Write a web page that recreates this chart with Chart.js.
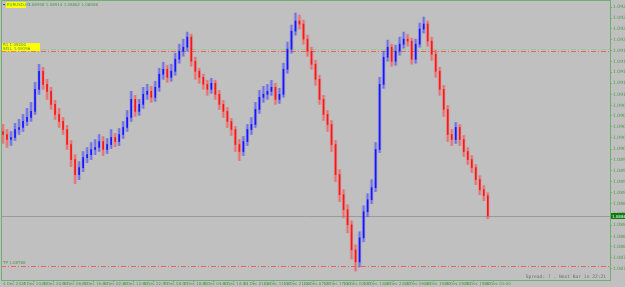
<!DOCTYPE html>
<html>
<head>
<meta charset="utf-8">
<script src="https://cdn.jsdelivr.net/npm/chart.js@4.4.0/dist/chart.umd.min.js"></script>
<style>
  html, body { margin: 0; padding: 0; background: #c0c0c0; overflow: hidden; }
</style>
</head>
<body>
<canvas id="priceChart" width="625" height="287"></canvas>
<script>
const symbol = 'EURUSD,H1';
const firstOpen = 1.09036;

const closes = [
  1.09030, 1.09020, 1.09024, 1.09040, 1.09044, 1.09056, 1.09064, 1.09076, 1.09120, 1.09156,
  1.09130, 1.09116, 1.09090, 1.09070, 1.09056, 1.09040, 1.09010, 1.08980, 1.08950, 1.08964,
  1.08984, 1.08990, 1.09000, 1.09004, 1.09016, 1.09000, 1.09010, 1.09024, 1.09016, 1.09030,
  1.09044, 1.09064, 1.09100, 1.09076, 1.09090, 1.09110, 1.09116, 1.09104, 1.09124, 1.09150,
  1.09160, 1.09144, 1.09156, 1.09180, 1.09196, 1.09204, 1.09224, 1.09176, 1.09156, 1.09144,
  1.09130, 1.09120, 1.09132, 1.09110, 1.09090, 1.09076, 1.09056, 1.09040, 1.09010, 1.08996,
  1.09016, 1.09040, 1.09050, 1.09080, 1.09104, 1.09110, 1.09116, 1.09124, 1.09100, 1.09110,
  1.09160, 1.09200, 1.09236, 1.09256, 1.09250, 1.09220, 1.09196, 1.09170, 1.09140, 1.09100,
  1.09070, 1.09050, 1.09010, 1.08950, 1.08910, 1.08880, 1.08850, 1.08800, 1.08776, 1.08824,
  1.08876, 1.08900, 1.08924, 1.09000, 1.09130, 1.09184, 1.09204, 1.09176, 1.09196, 1.09210,
  1.09220, 1.09216, 1.09180, 1.09210, 1.09240, 1.09250, 1.09216, 1.09190, 1.09156, 1.09120,
  1.09080, 1.09030, 1.09020, 1.09044, 1.09020, 1.08996, 1.08980, 1.08964, 1.08940, 1.08920,
  1.08908, 1.08868
];

const highs = [
  1.09050, 1.09040, 1.09036, 1.09052, 1.09060, 1.09070, 1.09082, 1.09094, 1.09134, 1.09170,
  1.09164, 1.09140, 1.09124, 1.09098, 1.09082, 1.09064, 1.09048, 1.09018, 1.08990, 1.08976,
  1.08996, 1.09004, 1.09014, 1.09020, 1.09030, 1.09026, 1.09022, 1.09040, 1.09032, 1.09042,
  1.09056, 1.09078, 1.09116, 1.09108, 1.09100, 1.09124, 1.09130, 1.09126, 1.09136, 1.09162,
  1.09174, 1.09168, 1.09170, 1.09192, 1.09210, 1.09220, 1.09234, 1.09230, 1.09184, 1.09162,
  1.09150, 1.09138, 1.09142, 1.09138, 1.09118, 1.09098, 1.09084, 1.09062, 1.09046, 1.09020,
  1.09026, 1.09050, 1.09064, 1.09094, 1.09118, 1.09126, 1.09130, 1.09138, 1.09132, 1.09122,
  1.09172, 1.09214, 1.09248, 1.09272, 1.09268, 1.09258, 1.09228, 1.09204, 1.09178, 1.09148,
  1.09108, 1.09078, 1.09058, 1.09018, 1.08960, 1.08920, 1.08890, 1.08858, 1.08810, 1.08836,
  1.08888, 1.08912, 1.08940, 1.09014, 1.09144, 1.09196, 1.09218, 1.09210, 1.09208, 1.09224,
  1.09234, 1.09230, 1.09222, 1.09220, 1.09252, 1.09264, 1.09256, 1.09224, 1.09198, 1.09164,
  1.09128, 1.09088, 1.09040, 1.09054, 1.09050, 1.09028, 1.09004, 1.08988, 1.08970, 1.08948,
  1.08928, 1.08914
];

const lows = [
  1.09012, 1.09004, 1.09008, 1.09018, 1.09030, 1.09036, 1.09048, 1.09056, 1.09070, 1.09110,
  1.09120, 1.09100, 1.09080, 1.09060, 1.09044, 1.09030, 1.09000, 1.08966, 1.08932, 1.08940,
  1.08956, 1.08974, 1.08980, 1.08990, 1.08996, 1.08988, 1.08992, 1.09002, 1.09006, 1.09008,
  1.09022, 1.09036, 1.09056, 1.09066, 1.09068, 1.09082, 1.09100, 1.09094, 1.09096, 1.09116,
  1.09140, 1.09134, 1.09136, 1.09148, 1.09172, 1.09186, 1.09196, 1.09166, 1.09140, 1.09132,
  1.09120, 1.09108, 1.09112, 1.09100, 1.09080, 1.09064, 1.09044, 1.09028, 1.08996, 1.08978,
  1.08988, 1.09008, 1.09030, 1.09044, 1.09072, 1.09094, 1.09100, 1.09108, 1.09090, 1.09092,
  1.09104, 1.09152, 1.09192, 1.09228, 1.09240, 1.09210, 1.09186, 1.09160, 1.09128, 1.09090,
  1.09058, 1.09036, 1.08996, 1.08936, 1.08896, 1.08864, 1.08834, 1.08782, 1.08758, 1.08766,
  1.08816, 1.08866, 1.08892, 1.08916, 1.08994, 1.09122, 1.09176, 1.09166, 1.09168, 1.09188,
  1.09202, 1.09206, 1.09170, 1.09172, 1.09204, 1.09232, 1.09206, 1.09178, 1.09144, 1.09108,
  1.09066, 1.09016, 1.09008, 1.09012, 1.09008, 1.08986, 1.08970, 1.08954, 1.08930, 1.08910,
  1.08898, 1.08862
];

// time labels, one every 5 bar slots
const xTickLabels = [
  '4 Dec 2023', '4 Dec 10:00', '4 Dec 20:00', '5 Dec 06:00', '5 Dec 16:00',
  '6 Dec 02:00', '6 Dec 12:00', '6 Dec 22:00', '7 Dec 08:00', '7 Dec 18:00',
  '8 Dec 04:00', '8 Dec 14:00', '11 Dec 01:00', '11 Dec 11:00', '11 Dec 21:00',
  '12 Dec 07:00', '12 Dec 17:00', '13 Dec 03:00', '13 Dec 13:00', '13 Dec 23:00',
  '14 Dec 09:00', '14 Dec 19:00', '15 Dec 05:00', '15 Dec 15:00', '18 Dec 01:00'
];

const yTickValues = [
  1.09284, 1.09262, 1.09241, 1.09219, 1.09197, 1.09175, 1.09154, 1.09132, 1.09110,
  1.09088, 1.09067, 1.09045, 1.09023, 1.09001, 1.08980, 1.08958, 1.08936, 1.08914,
  1.08892, 1.08871, 1.08849, 1.08827, 1.08806, 1.08784, 1.08762
];

// horizontal levels: resistance (green), entry (red), target (red)
const levelValues = [1.09200, 1.09196, 1.08768];
const levelNames = ['R1 1.09200', 'SELL 1.09196', 'TP 1.08768'];

const slotCount = 152;
const priceMin = 1.08740;
const priceMax = 1.09298;

const opens = closes.map((c, i) => i === 0 ? firstOpen : closes[i - 1]);
const slots = Array.from({ length: slotCount }, (_, i) => i);

const frameGreen = '#6fb06f';
const textGreen = '#4f984f';
const bull = '#1515ff';
const bear = '#ff1515';

function candleColor(ctx, alpha) {
    const i = ctx.dataIndex;
    const up = closes[i] >= opens[i];
    if (alpha) return up ? 'rgba(70,70,255,' + alpha + ')' : 'rgba(255,70,70,' + alpha + ')';
    return up ? bull : bear;
}

const overlay = {
    id: 'overlay',
    beforeDraw(chart) {
        const c = chart.ctx;
        c.save();
        c.fillStyle = '#c0c0c0';
        c.fillRect(0, 0, chart.width, chart.height);
        c.restore();
    },
    beforeDatasetsDraw(chart) {
        const c = chart.ctx;
        const a = chart.chartArea;
        const y = chart.scales.y;
        c.save();
        // current price line
        const py = Math.round(y.getPixelForValue(closes[closes.length - 1])) + 0.5;
        c.strokeStyle = '#9a9a9a';
        c.lineWidth = 1;
        c.beginPath(); c.moveTo(a.left, py); c.lineTo(a.right, py); c.stroke();
        // dash-dot levels
        const colors = ['#8fd08f', '#f06060', '#f06060'];
        levelValues.forEach((v, k) => {
            const ly = Math.round(y.getPixelForValue(v)) + 0.5;
            c.strokeStyle = colors[k];
            c.setLineDash([5, 2, 1, 2]);
            c.beginPath(); c.moveTo(a.left, ly); c.lineTo(a.right, ly); c.stroke();
        });
        c.restore();
    },
    afterDraw(chart) {
        const c = chart.ctx;
        const a = chart.chartArea;
        const y = chart.scales.y;
        const n = closes.length - 1;
        c.save();
        // frame
        c.strokeStyle = frameGreen;
        c.lineWidth = 1;
        c.beginPath();
        c.moveTo(a.left + 0.5, a.bottom); c.lineTo(a.left + 0.5, a.top + 0.5); c.lineTo(a.right, a.top + 0.5);
        c.stroke();

        // title with OHLC
        c.font = '4px "DejaVu Sans"';
        c.textBaseline = 'middle';
        c.fillStyle = '#3a5a3a';
        c.fillRect(3, 4, 2, 1);
        c.fillStyle = '#ffff00';
        c.fillRect(6, 2, 20, 6);
        c.fillStyle = '#4f8f4f';
        c.fillText(symbol, 7, 5);
        c.fillStyle = textGreen;
        c.fillText([opens[n], highs[n], lows[n], closes[n]].map(v => v.toFixed(5)).join(' '), 28, 5);

        // level labels
        const ry = y.getPixelForValue(levelValues[1]);
        c.fillStyle = '#ffff00';
        c.fillRect(2, ry - 8, 38, 8);
        c.fillStyle = '#4f8f4f';
        c.fillText(levelNames[0], 3, ry - 6);
        c.fillText(levelNames[1], 3, ry - 2.5);
        c.fillStyle = textGreen;
        c.fillText(levelNames[2], 3, y.getPixelForValue(levelValues[2]) - 3);

        // current price box on the axis
        const py = Math.round(y.getPixelForValue(closes[n]));
        c.fillStyle = '#0e7a0e';
        c.fillRect(a.right + 1, py - 3, chart.width - a.right - 1, 6);
        c.fillStyle = '#ffffff';
        c.fillText(closes[n].toFixed(5), a.right + 2, py + 0.5);

        // spread / bar timer
        c.font = '4.6px "DejaVu Sans Mono"';
        c.fillStyle = '#6e6e6e';
        c.textAlign = 'right';
        c.fillText('Spread: 7 . Next Bar in 22:21', a.right - 4, a.bottom - 3);
        c.restore();
    }
};

Chart.defaults.font.family = '"DejaVu Sans"';
Chart.defaults.font.size = 4;

new Chart(document.getElementById('priceChart').getContext('2d'), {
    type: 'bar',
    data: {
        labels: slots,
        datasets: [
            {
                label: 'body',
                data: closes.map((c, i) => [opens[i], c]),
                backgroundColor: ctx => candleColor(ctx),
                barThickness: 1,
                grouped: false,
                order: 1
            },
            {
                label: 'wick',
                data: closes.map((c, i) => [lows[i], highs[i]]),
                backgroundColor: ctx => candleColor(ctx, 0.55),
                barThickness: 1,
                grouped: false,
                order: 2
            },
            {
                label: 'shade',
                data: closes.map((c, i) => [lows[i], highs[i]]),
                backgroundColor: ctx => candleColor(ctx, 0.22),
                barThickness: 3,
                grouped: false,
                order: 3
            }
        ]
    },
    options: {
        responsive: false,
        animation: false,
        layout: { padding: { left: 1, top: 0, right: 0, bottom: 0 } },
        plugins: {
            legend: { display: false },
            tooltip: { enabled: false }
        },
        scales: {
            x: {
                grid: { display: true, drawOnChartArea: false, tickLength: 2, color: frameGreen },
                border: { display: true, color: frameGreen },
                afterBuildTicks: scale => {
                    scale.ticks = scale.ticks.filter(t => t.value % 5 === 0 && t.value / 5 < xTickLabels.length);
                },
                afterFit: scale => { scale.height = 7; },
                ticks: {
                    autoSkip: false,
                    maxRotation: 0,
                    minRotation: 0,
                    align: 'start',
                    padding: 0,
                    color: textGreen,
                    font: { size: 4 },
                    callback: v => xTickLabels[v / 5]
                }
            },
            y: {
                position: 'right',
                min: priceMin,
                max: priceMax,
                grid: { display: true, drawOnChartArea: false, tickLength: 2, color: frameGreen },
                border: { display: true, color: frameGreen },
                afterBuildTicks: scale => {
                    scale.ticks = yTickValues.map(v => ({ value: v }));
                },
                afterFit: scale => {
                    scale.width = 15;
                    scale.paddingTop = 0;
                    scale.paddingBottom = 0;
                },
                ticks: {
                    padding: 1,
                    color: textGreen,
                    font: { size: 4.5 },
                    callback: v => v.toFixed(5)
                }
            }
        }
    },
    plugins: [overlay]
});
</script>
</body>
</html>
